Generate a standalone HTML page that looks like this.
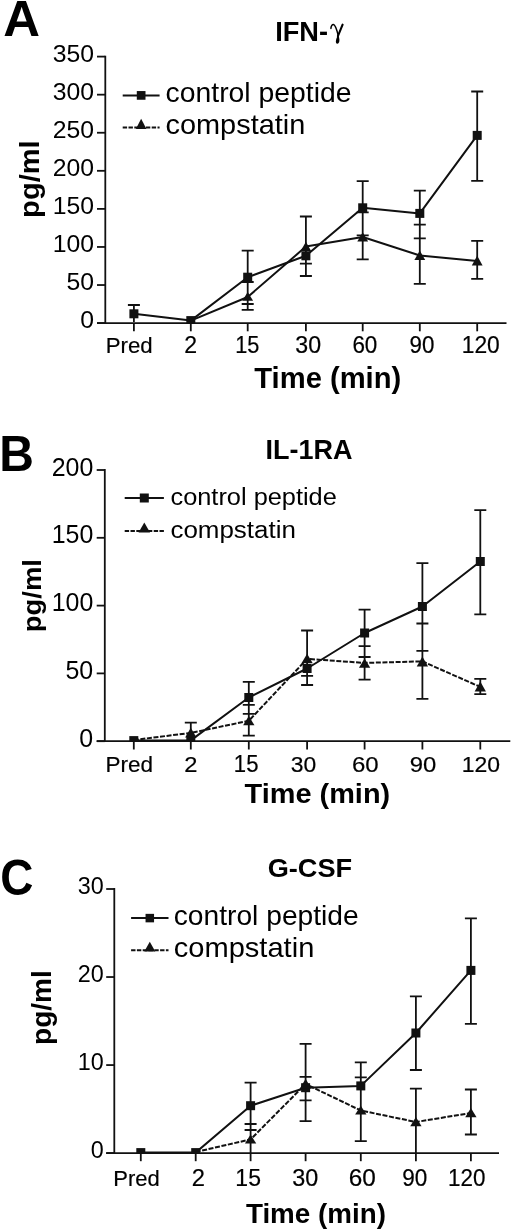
<!DOCTYPE html>
<html><head><meta charset="utf-8"><style>html,body{margin:0;padding:0;background:#fff;}svg{display:block;filter:grayscale(1);}</style></head>
<body><svg width="520" height="1230" viewBox="0 0 520 1230">
<rect width="520" height="1230" fill="#fff"/>
<text transform="translate(3.33,36.30) scale(0.5090,0.5014)" font-family="Liberation Sans" font-weight="bold" font-style="normal" font-size="100" fill="#000">A</text>
<text transform="translate(275.13,40.80) scale(0.2717,0.2681)" font-family="Liberation Sans" font-weight="bold" font-style="normal" font-size="100" fill="#000">IFN-</text>
<path d="M330.9,28.4 C331.1,25.6 332.3,24.3 333.4,24.4 C335.6,24.6 336.9,30 338.3,35.6" fill="none" stroke="#000" stroke-width="1.5" stroke-linecap="round"/>
<path d="M342.6,24.7 L337.9,36.2" fill="none" stroke="#000" stroke-width="2.1" stroke-linecap="round"/>
<path d="M338.2,34.8 C339.9,38.8 339.9,43.7 337.3,43.7 C335.1,43.7 335.4,39.6 338.2,34.8 Z" fill="#000"/>
<line x1="105.30" y1="55.70" x2="105.30" y2="324.00" stroke="#111" stroke-width="1.8"/>
<line x1="97.00" y1="323.10" x2="105.30" y2="323.10" stroke="#111" stroke-width="1.8"/>
<text transform="translate(80.31,328.40) scale(0.2478,0.2471)" font-family="Liberation Sans" font-weight="normal" font-style="normal" font-size="100" fill="#000">0</text>
<line x1="97.00" y1="285.03" x2="105.30" y2="285.03" stroke="#111" stroke-width="1.8"/>
<text transform="translate(66.56,290.33) scale(0.2478,0.2471)" font-family="Liberation Sans" font-weight="normal" font-style="normal" font-size="100" fill="#000">50</text>
<line x1="97.00" y1="246.96" x2="105.30" y2="246.96" stroke="#111" stroke-width="1.8"/>
<text transform="translate(52.81,252.26) scale(0.2478,0.2471)" font-family="Liberation Sans" font-weight="normal" font-style="normal" font-size="100" fill="#000">100</text>
<line x1="97.00" y1="208.89" x2="105.30" y2="208.89" stroke="#111" stroke-width="1.8"/>
<text transform="translate(52.81,214.19) scale(0.2478,0.2471)" font-family="Liberation Sans" font-weight="normal" font-style="normal" font-size="100" fill="#000">150</text>
<line x1="97.00" y1="170.81" x2="105.30" y2="170.81" stroke="#111" stroke-width="1.8"/>
<text transform="translate(52.81,176.11) scale(0.2478,0.2471)" font-family="Liberation Sans" font-weight="normal" font-style="normal" font-size="100" fill="#000">200</text>
<line x1="97.00" y1="132.74" x2="105.30" y2="132.74" stroke="#111" stroke-width="1.8"/>
<text transform="translate(52.81,138.04) scale(0.2478,0.2471)" font-family="Liberation Sans" font-weight="normal" font-style="normal" font-size="100" fill="#000">250</text>
<line x1="97.00" y1="94.67" x2="105.30" y2="94.67" stroke="#111" stroke-width="1.8"/>
<text transform="translate(52.81,99.97) scale(0.2478,0.2471)" font-family="Liberation Sans" font-weight="normal" font-style="normal" font-size="100" fill="#000">300</text>
<line x1="97.00" y1="56.60" x2="105.30" y2="56.60" stroke="#111" stroke-width="1.8"/>
<text transform="translate(52.81,61.90) scale(0.2478,0.2471)" font-family="Liberation Sans" font-weight="normal" font-style="normal" font-size="100" fill="#000">350</text>
<line x1="97.00" y1="323.10" x2="506.50" y2="323.10" stroke="#111" stroke-width="1.8"/>
<line x1="133.90" y1="323.10" x2="133.90" y2="331.30" stroke="#111" stroke-width="1.8"/>
<text transform="translate(105.82,353.20) scale(0.2219,0.2234)" font-family="Liberation Sans" font-weight="normal" font-style="normal" font-size="100" fill="#000" stroke="#000" stroke-width="0.90" stroke-linejoin="round">Pred</text>
<line x1="190.80" y1="323.10" x2="190.80" y2="331.30" stroke="#111" stroke-width="1.8"/>
<text transform="translate(184.35,353.20) scale(0.2308,0.2314)" font-family="Liberation Sans" font-weight="normal" font-style="normal" font-size="100" fill="#000" stroke="#000" stroke-width="0.87" stroke-linejoin="round">2</text>
<line x1="247.70" y1="323.10" x2="247.70" y2="331.30" stroke="#111" stroke-width="1.8"/>
<text transform="translate(235.27,353.20) scale(0.2171,0.2348)" font-family="Liberation Sans" font-weight="normal" font-style="normal" font-size="100" fill="#000" stroke="#000" stroke-width="0.89" stroke-linejoin="round">15</text>
<line x1="305.90" y1="323.10" x2="305.90" y2="331.30" stroke="#111" stroke-width="1.8"/>
<text transform="translate(295.37,353.20) scale(0.2319,0.2314)" font-family="Liberation Sans" font-weight="normal" font-style="normal" font-size="100" fill="#000" stroke="#000" stroke-width="0.86" stroke-linejoin="round">30</text>
<line x1="362.70" y1="323.10" x2="362.70" y2="331.30" stroke="#111" stroke-width="1.8"/>
<text transform="translate(352.38,353.20) scale(0.2244,0.2314)" font-family="Liberation Sans" font-weight="normal" font-style="normal" font-size="100" fill="#000" stroke="#000" stroke-width="0.88" stroke-linejoin="round">60</text>
<line x1="419.80" y1="323.10" x2="419.80" y2="331.30" stroke="#111" stroke-width="1.8"/>
<text transform="translate(409.60,353.20) scale(0.2233,0.2314)" font-family="Liberation Sans" font-weight="normal" font-style="normal" font-size="100" fill="#000" stroke="#000" stroke-width="0.88" stroke-linejoin="round">90</text>
<line x1="477.20" y1="323.10" x2="477.20" y2="331.30" stroke="#111" stroke-width="1.8"/>
<text transform="translate(461.69,353.20) scale(0.2283,0.2314)" font-family="Liberation Sans" font-weight="normal" font-style="normal" font-size="100" fill="#000" stroke="#000" stroke-width="0.87" stroke-linejoin="round">120</text>
<text transform="translate(254.31,387.70) scale(0.2918,0.2910)" font-family="Liberation Sans" font-weight="bold" font-style="normal" font-size="100" fill="#000">Time (min)</text>
<text transform="translate(38.70,217.89) rotate(-90) scale(0.2911,0.2828)" font-family="Liberation Sans" font-weight="bold" font-size="100" fill="#000">pg/ml</text>
<line x1="122.70" y1="95.40" x2="159.60" y2="95.40" stroke="#111" stroke-width="2"/>
<rect x="136.80" y="91.05" width="8.7" height="8.7" fill="#111"/>
<line x1="122.70" y1="127.40" x2="159.60" y2="127.40" stroke="#111" stroke-width="2.0" stroke-dasharray="4.4,1.4"/>
<polygon points="141.15,118.80 146.45,128.90 135.85,128.90" fill="#111"/>
<text transform="translate(165.57,101.90) scale(0.2836,0.2703)" font-family="Liberation Sans" font-weight="normal" font-style="normal" font-size="100" fill="#000">control peptide</text>
<text transform="translate(165.44,133.80) scale(0.2894,0.2703)" font-family="Liberation Sans" font-weight="normal" font-style="normal" font-size="100" fill="#000">compstatin</text>
<clipPath id="cA"><rect x="105.3" y="-23.4" width="411.2" height="346.5"/></clipPath><g clip-path="url(#cA)">
<line x1="133.90" y1="305.00" x2="133.90" y2="322.00" stroke="#111" stroke-width="1.8"/>
<line x1="127.90" y1="305.00" x2="139.90" y2="305.00" stroke="#111" stroke-width="1.8"/>
<line x1="247.70" y1="250.60" x2="247.70" y2="309.90" stroke="#111" stroke-width="1.8"/>
<line x1="241.70" y1="250.60" x2="253.70" y2="250.60" stroke="#111" stroke-width="1.8"/>
<line x1="241.70" y1="282.00" x2="253.70" y2="282.00" stroke="#111" stroke-width="1.8"/>
<line x1="241.70" y1="304.00" x2="253.70" y2="304.00" stroke="#111" stroke-width="1.8"/>
<line x1="241.70" y1="309.90" x2="253.70" y2="309.90" stroke="#111" stroke-width="1.8"/>
<line x1="305.90" y1="216.50" x2="305.90" y2="276.00" stroke="#111" stroke-width="1.8"/>
<line x1="299.90" y1="216.50" x2="311.90" y2="216.50" stroke="#111" stroke-width="1.8"/>
<line x1="299.90" y1="263.70" x2="311.90" y2="263.70" stroke="#111" stroke-width="1.8"/>
<line x1="299.90" y1="276.00" x2="311.90" y2="276.00" stroke="#111" stroke-width="1.8"/>
<line x1="362.70" y1="181.10" x2="362.70" y2="259.40" stroke="#111" stroke-width="1.8"/>
<line x1="356.70" y1="181.10" x2="368.70" y2="181.10" stroke="#111" stroke-width="1.8"/>
<line x1="356.70" y1="212.30" x2="368.70" y2="212.30" stroke="#111" stroke-width="1.8"/>
<line x1="356.70" y1="235.40" x2="368.70" y2="235.40" stroke="#111" stroke-width="1.8"/>
<line x1="356.70" y1="259.40" x2="368.70" y2="259.40" stroke="#111" stroke-width="1.8"/>
<line x1="419.80" y1="190.70" x2="419.80" y2="283.90" stroke="#111" stroke-width="1.8"/>
<line x1="413.80" y1="190.70" x2="425.80" y2="190.70" stroke="#111" stroke-width="1.8"/>
<line x1="413.80" y1="224.70" x2="425.80" y2="224.70" stroke="#111" stroke-width="1.8"/>
<line x1="413.80" y1="238.30" x2="425.80" y2="238.30" stroke="#111" stroke-width="1.8"/>
<line x1="413.80" y1="283.90" x2="425.80" y2="283.90" stroke="#111" stroke-width="1.8"/>
<line x1="477.20" y1="91.50" x2="477.20" y2="180.90" stroke="#111" stroke-width="1.8"/>
<line x1="471.20" y1="91.50" x2="483.20" y2="91.50" stroke="#111" stroke-width="1.8"/>
<line x1="471.20" y1="180.90" x2="483.20" y2="180.90" stroke="#111" stroke-width="1.8"/>
<line x1="477.20" y1="240.90" x2="477.20" y2="278.90" stroke="#111" stroke-width="1.8"/>
<line x1="471.20" y1="240.90" x2="483.20" y2="240.90" stroke="#111" stroke-width="1.8"/>
<line x1="471.20" y1="278.90" x2="483.20" y2="278.90" stroke="#111" stroke-width="1.8"/>
<polyline points="133.90,313.80 190.80,320.60 247.70,277.20 305.90,255.80 362.70,207.80 419.80,213.40 477.20,135.40" fill="none" stroke="#111" stroke-width="2.0" stroke-linejoin="round"/>
<polyline points="190.80,320.60 247.70,297.00 305.90,246.60 362.70,237.00 419.80,255.50 477.20,261.00" fill="none" stroke="#111" stroke-width="2.0" stroke-linejoin="round"/>
<rect x="129.40" y="309.30" width="9" height="9" fill="#111"/>
<rect x="186.30" y="316.10" width="9" height="9" fill="#111"/>
<rect x="243.20" y="272.70" width="9" height="9" fill="#111"/>
<rect x="301.40" y="251.30" width="9" height="9" fill="#111"/>
<rect x="358.20" y="203.30" width="9" height="9" fill="#111"/>
<rect x="415.30" y="208.90" width="9" height="9" fill="#111"/>
<rect x="472.70" y="130.90" width="9" height="9" fill="#111"/>
<polygon points="247.70,292.00 253.10,300.80 242.30,300.80" fill="#111"/>
<polygon points="305.90,241.80 311.30,251.20 300.50,251.20" fill="#111"/>
<polygon points="362.70,232.20 368.10,241.50 357.30,241.50" fill="#111"/>
<polygon points="419.80,250.60 425.20,259.90 414.40,259.90" fill="#111"/>
<polygon points="477.20,255.70 482.60,265.50 471.80,265.50" fill="#111"/>
</g>
<text transform="translate(-0.72,471.00) scale(0.4803,0.5000)" font-family="Liberation Sans" font-weight="bold" font-style="normal" font-size="100" fill="#000">B</text>
<text transform="translate(265.54,459.00) scale(0.2703,0.2696)" font-family="Liberation Sans" font-weight="bold" font-style="normal" font-size="100" fill="#000">IL-1RA</text>
<line x1="104.80" y1="469.10" x2="104.80" y2="742.10" stroke="#111" stroke-width="1.8"/>
<line x1="96.70" y1="741.20" x2="104.80" y2="741.20" stroke="#111" stroke-width="1.8"/>
<text transform="translate(79.33,746.70) scale(0.2494,0.2486)" font-family="Liberation Sans" font-weight="normal" font-style="normal" font-size="100" fill="#000">0</text>
<line x1="96.70" y1="673.40" x2="104.80" y2="673.40" stroke="#111" stroke-width="1.8"/>
<text transform="translate(65.49,678.90) scale(0.2494,0.2486)" font-family="Liberation Sans" font-weight="normal" font-style="normal" font-size="100" fill="#000">50</text>
<line x1="96.70" y1="605.60" x2="104.80" y2="605.60" stroke="#111" stroke-width="1.8"/>
<text transform="translate(51.65,611.10) scale(0.2494,0.2486)" font-family="Liberation Sans" font-weight="normal" font-style="normal" font-size="100" fill="#000">100</text>
<line x1="96.70" y1="537.80" x2="104.80" y2="537.80" stroke="#111" stroke-width="1.8"/>
<text transform="translate(51.65,543.30) scale(0.2494,0.2486)" font-family="Liberation Sans" font-weight="normal" font-style="normal" font-size="100" fill="#000">150</text>
<line x1="96.70" y1="470.00" x2="104.80" y2="470.00" stroke="#111" stroke-width="1.8"/>
<text transform="translate(51.65,475.50) scale(0.2494,0.2486)" font-family="Liberation Sans" font-weight="normal" font-style="normal" font-size="100" fill="#000">200</text>
<line x1="96.70" y1="741.20" x2="510.30" y2="741.20" stroke="#111" stroke-width="1.8"/>
<line x1="133.80" y1="741.20" x2="133.80" y2="749.50" stroke="#111" stroke-width="1.8"/>
<text transform="translate(105.50,771.50) scale(0.2249,0.2193)" font-family="Liberation Sans" font-weight="normal" font-style="normal" font-size="100" fill="#000" stroke="#000" stroke-width="0.90" stroke-linejoin="round">Pred</text>
<line x1="190.80" y1="741.20" x2="190.80" y2="749.50" stroke="#111" stroke-width="1.8"/>
<text transform="translate(184.31,771.50) scale(0.2374,0.2271)" font-family="Liberation Sans" font-weight="normal" font-style="normal" font-size="100" fill="#000" stroke="#000" stroke-width="0.86" stroke-linejoin="round">2</text>
<line x1="248.80" y1="741.20" x2="248.80" y2="749.50" stroke="#111" stroke-width="1.8"/>
<text transform="translate(233.84,771.50) scale(0.2211,0.2304)" font-family="Liberation Sans" font-weight="normal" font-style="normal" font-size="100" fill="#000" stroke="#000" stroke-width="0.89" stroke-linejoin="round">15</text>
<line x1="307.10" y1="741.20" x2="307.10" y2="749.50" stroke="#111" stroke-width="1.8"/>
<text transform="translate(290.78,771.50) scale(0.2290,0.2271)" font-family="Liberation Sans" font-weight="normal" font-style="normal" font-size="100" fill="#000" stroke="#000" stroke-width="0.88" stroke-linejoin="round">30</text>
<line x1="364.60" y1="741.20" x2="364.60" y2="749.50" stroke="#111" stroke-width="1.8"/>
<text transform="translate(352.00,771.50) scale(0.2400,0.2271)" font-family="Liberation Sans" font-weight="normal" font-style="normal" font-size="100" fill="#000" stroke="#000" stroke-width="0.86" stroke-linejoin="round">60</text>
<line x1="422.40" y1="741.20" x2="422.40" y2="749.50" stroke="#111" stroke-width="1.8"/>
<text transform="translate(409.73,771.50) scale(0.2388,0.2271)" font-family="Liberation Sans" font-weight="normal" font-style="normal" font-size="100" fill="#000" stroke="#000" stroke-width="0.86" stroke-linejoin="round">90</text>
<line x1="480.30" y1="741.20" x2="480.30" y2="749.50" stroke="#111" stroke-width="1.8"/>
<text transform="translate(461.78,771.50) scale(0.2296,0.2271)" font-family="Liberation Sans" font-weight="normal" font-style="normal" font-size="100" fill="#000" stroke="#000" stroke-width="0.88" stroke-linejoin="round">120</text>
<text transform="translate(244.61,803.20) scale(0.2890,0.2855)" font-family="Liberation Sans" font-weight="bold" font-style="normal" font-size="100" fill="#000">Time (min)</text>
<text transform="translate(41.00,632.18) rotate(-90) scale(0.2742,0.2634)" font-family="Liberation Sans" font-weight="bold" font-size="100" fill="#000">pg/ml</text>
<line x1="124.70" y1="498.00" x2="163.90" y2="498.00" stroke="#111" stroke-width="2"/>
<rect x="139.80" y="493.50" width="9" height="9" fill="#111"/>
<line x1="124.70" y1="531.00" x2="163.90" y2="531.00" stroke="#111" stroke-width="2.0" stroke-dasharray="4.4,1.4"/>
<polygon points="144.30,522.60 150.05,532.60 138.55,532.60" fill="#111"/>
<text transform="translate(170.49,505.00) scale(0.2537,0.2386)" font-family="Liberation Sans" font-weight="normal" font-style="normal" font-size="100" fill="#000">control peptide</text>
<text transform="translate(170.46,537.70) scale(0.2594,0.2386)" font-family="Liberation Sans" font-weight="normal" font-style="normal" font-size="100" fill="#000">compstatin</text>
<clipPath id="cB"><rect x="104.8" y="390.0" width="415.5" height="351.20000000000005"/></clipPath><g clip-path="url(#cB)">
<line x1="190.80" y1="722.70" x2="190.80" y2="741.00" stroke="#111" stroke-width="1.8"/>
<line x1="184.80" y1="722.70" x2="196.80" y2="722.70" stroke="#111" stroke-width="1.8"/>
<line x1="248.80" y1="681.90" x2="248.80" y2="735.60" stroke="#111" stroke-width="1.8"/>
<line x1="242.80" y1="681.90" x2="254.80" y2="681.90" stroke="#111" stroke-width="1.8"/>
<line x1="242.80" y1="704.80" x2="254.80" y2="704.80" stroke="#111" stroke-width="1.8"/>
<line x1="242.80" y1="713.80" x2="254.80" y2="713.80" stroke="#111" stroke-width="1.8"/>
<line x1="242.80" y1="735.60" x2="254.80" y2="735.60" stroke="#111" stroke-width="1.8"/>
<line x1="307.10" y1="630.50" x2="307.10" y2="685.00" stroke="#111" stroke-width="1.8"/>
<line x1="301.10" y1="630.50" x2="313.10" y2="630.50" stroke="#111" stroke-width="1.8"/>
<line x1="301.10" y1="675.90" x2="313.10" y2="675.90" stroke="#111" stroke-width="1.8"/>
<line x1="301.10" y1="685.00" x2="313.10" y2="685.00" stroke="#111" stroke-width="1.8"/>
<line x1="364.60" y1="609.70" x2="364.60" y2="679.60" stroke="#111" stroke-width="1.8"/>
<line x1="358.60" y1="609.70" x2="370.60" y2="609.70" stroke="#111" stroke-width="1.8"/>
<line x1="358.60" y1="646.20" x2="370.60" y2="646.20" stroke="#111" stroke-width="1.8"/>
<line x1="358.60" y1="657.00" x2="370.60" y2="657.00" stroke="#111" stroke-width="1.8"/>
<line x1="358.60" y1="679.60" x2="370.60" y2="679.60" stroke="#111" stroke-width="1.8"/>
<line x1="422.40" y1="563.10" x2="422.40" y2="698.80" stroke="#111" stroke-width="1.8"/>
<line x1="416.40" y1="563.10" x2="428.40" y2="563.10" stroke="#111" stroke-width="1.8"/>
<line x1="416.40" y1="623.50" x2="428.40" y2="623.50" stroke="#111" stroke-width="1.8"/>
<line x1="416.40" y1="650.80" x2="428.40" y2="650.80" stroke="#111" stroke-width="1.8"/>
<line x1="416.40" y1="698.80" x2="428.40" y2="698.80" stroke="#111" stroke-width="1.8"/>
<line x1="480.30" y1="510.20" x2="480.30" y2="614.30" stroke="#111" stroke-width="1.8"/>
<line x1="474.30" y1="510.20" x2="486.30" y2="510.20" stroke="#111" stroke-width="1.8"/>
<line x1="474.30" y1="614.30" x2="486.30" y2="614.30" stroke="#111" stroke-width="1.8"/>
<line x1="480.30" y1="678.90" x2="480.30" y2="694.20" stroke="#111" stroke-width="1.8"/>
<line x1="474.30" y1="678.90" x2="486.30" y2="678.90" stroke="#111" stroke-width="1.8"/>
<line x1="474.30" y1="694.20" x2="486.30" y2="694.20" stroke="#111" stroke-width="1.8"/>
<polyline points="133.80,740.60 190.80,740.40 248.80,697.50 307.10,668.50 364.60,633.00 422.40,606.50 480.30,561.50" fill="none" stroke="#111" stroke-width="2.0" stroke-linejoin="round"/>
<polyline points="133.80,740.00 190.80,732.90 248.80,720.80 307.10,658.90 364.60,662.90 422.40,661.40 480.30,686.90" fill="none" stroke="#111" stroke-width="2.0" stroke-linejoin="round" stroke-dasharray="5.0,1.6"/>
<rect x="129.30" y="736.10" width="9" height="9" fill="#111"/>
<rect x="186.30" y="735.90" width="9" height="9" fill="#111"/>
<rect x="244.30" y="693.00" width="9" height="9" fill="#111"/>
<rect x="302.60" y="664.00" width="9" height="9" fill="#111"/>
<rect x="360.10" y="628.50" width="9" height="9" fill="#111"/>
<rect x="417.90" y="602.00" width="9" height="9" fill="#111"/>
<rect x="475.80" y="557.00" width="9" height="9" fill="#111"/>
<polygon points="190.80,727.80 196.45,737.40 185.15,737.40" fill="#111"/>
<polygon points="248.80,715.90 254.45,725.30 243.15,725.30" fill="#111"/>
<polygon points="307.10,653.80 312.75,663.30 301.45,663.30" fill="#111"/>
<polygon points="364.60,658.40 370.25,667.80 358.95,667.80" fill="#111"/>
<polygon points="422.40,656.60 428.05,666.40 416.75,666.40" fill="#111"/>
<polygon points="480.30,681.60 485.95,691.40 474.65,691.40" fill="#111"/>
</g>
<text transform="translate(0.26,894.70) scale(0.4595,0.5086)" font-family="Liberation Sans" font-weight="bold" font-style="normal" font-size="100" fill="#000">C</text>
<text transform="translate(267.71,877.30) scale(0.2715,0.2571)" font-family="Liberation Sans" font-weight="bold" font-style="normal" font-size="100" fill="#000">G-CSF</text>
<line x1="114.30" y1="888.10" x2="114.30" y2="1154.00" stroke="#111" stroke-width="1.8"/>
<line x1="106.20" y1="1153.10" x2="114.30" y2="1153.10" stroke="#111" stroke-width="1.8"/>
<text transform="translate(90.84,1158.20) scale(0.2338,0.2414)" font-family="Liberation Sans" font-weight="normal" font-style="normal" font-size="100" fill="#000">0</text>
<line x1="106.20" y1="1065.07" x2="114.30" y2="1065.07" stroke="#111" stroke-width="1.8"/>
<text transform="translate(77.86,1070.17) scale(0.2338,0.2414)" font-family="Liberation Sans" font-weight="normal" font-style="normal" font-size="100" fill="#000">10</text>
<line x1="106.20" y1="977.03" x2="114.30" y2="977.03" stroke="#111" stroke-width="1.8"/>
<text transform="translate(77.86,982.13) scale(0.2338,0.2414)" font-family="Liberation Sans" font-weight="normal" font-style="normal" font-size="100" fill="#000">20</text>
<line x1="106.20" y1="889.00" x2="114.30" y2="889.00" stroke="#111" stroke-width="1.8"/>
<text transform="translate(77.86,894.10) scale(0.2338,0.2414)" font-family="Liberation Sans" font-weight="normal" font-style="normal" font-size="100" fill="#000">30</text>
<line x1="106.20" y1="1153.10" x2="499.00" y2="1153.10" stroke="#111" stroke-width="1.8"/>
<line x1="140.80" y1="1153.10" x2="140.80" y2="1161.20" stroke="#111" stroke-width="1.8"/>
<text transform="translate(113.24,1185.80) scale(0.2198,0.2290)" font-family="Liberation Sans" font-weight="normal" font-style="normal" font-size="100" fill="#000" stroke="#000" stroke-width="0.89" stroke-linejoin="round">Pred</text>
<line x1="195.70" y1="1153.10" x2="195.70" y2="1161.20" stroke="#111" stroke-width="1.8"/>
<text transform="translate(191.71,1185.80) scale(0.2374,0.2371)" font-family="Liberation Sans" font-weight="normal" font-style="normal" font-size="100" fill="#000" stroke="#000" stroke-width="0.84" stroke-linejoin="round">2</text>
<line x1="250.60" y1="1153.10" x2="250.60" y2="1161.20" stroke="#111" stroke-width="1.8"/>
<text transform="translate(235.37,1185.80) scale(0.2302,0.2406)" font-family="Liberation Sans" font-weight="normal" font-style="normal" font-size="100" fill="#000" stroke="#000" stroke-width="0.85" stroke-linejoin="round">15</text>
<line x1="305.60" y1="1153.10" x2="305.60" y2="1161.20" stroke="#111" stroke-width="1.8"/>
<text transform="translate(292.16,1185.80) scale(0.2338,0.2371)" font-family="Liberation Sans" font-weight="normal" font-style="normal" font-size="100" fill="#000" stroke="#000" stroke-width="0.85" stroke-linejoin="round">30</text>
<line x1="360.80" y1="1153.10" x2="360.80" y2="1161.20" stroke="#111" stroke-width="1.8"/>
<text transform="translate(348.78,1185.80) scale(0.2439,0.2371)" font-family="Liberation Sans" font-weight="normal" font-style="normal" font-size="100" fill="#000" stroke="#000" stroke-width="0.83" stroke-linejoin="round">60</text>
<line x1="415.90" y1="1153.10" x2="415.90" y2="1161.20" stroke="#111" stroke-width="1.8"/>
<text transform="translate(402.19,1185.80) scale(0.2252,0.2371)" font-family="Liberation Sans" font-weight="normal" font-style="normal" font-size="100" fill="#000" stroke="#000" stroke-width="0.87" stroke-linejoin="round">90</text>
<line x1="470.90" y1="1153.10" x2="470.90" y2="1161.20" stroke="#111" stroke-width="1.8"/>
<text transform="translate(448.02,1185.80) scale(0.2244,0.2371)" font-family="Liberation Sans" font-weight="normal" font-style="normal" font-size="100" fill="#000" stroke="#000" stroke-width="0.87" stroke-linejoin="round">120</text>
<text transform="translate(245.92,1222.70) scale(0.2781,0.2828)" font-family="Liberation Sans" font-weight="bold" font-style="normal" font-size="100" fill="#000">Time (min)</text>
<text transform="translate(50.90,1044.92) rotate(-90) scale(0.2801,0.2676)" font-family="Liberation Sans" font-weight="bold" font-size="100" fill="#000">pg/ml</text>
<line x1="131.10" y1="918.10" x2="168.50" y2="918.10" stroke="#111" stroke-width="2"/>
<rect x="145.55" y="913.85" width="8.5" height="8.5" fill="#111"/>
<line x1="131.10" y1="950.30" x2="168.50" y2="950.30" stroke="#111" stroke-width="2.0" stroke-dasharray="4.4,1.4"/>
<polygon points="149.80,941.80 155.30,951.50 144.30,951.50" fill="#111"/>
<text transform="translate(173.77,924.90) scale(0.2820,0.2703)" font-family="Liberation Sans" font-weight="normal" font-style="normal" font-size="100" fill="#000">control peptide</text>
<text transform="translate(173.74,956.50) scale(0.2909,0.2703)" font-family="Liberation Sans" font-weight="normal" font-style="normal" font-size="100" fill="#000">compstatin</text>
<clipPath id="cC"><rect x="114.3" y="809.0" width="394.7" height="344.0999999999999"/></clipPath><g clip-path="url(#cC)">
<line x1="250.60" y1="1082.60" x2="250.60" y2="1153.20" stroke="#111" stroke-width="1.8"/>
<line x1="244.60" y1="1082.60" x2="256.60" y2="1082.60" stroke="#111" stroke-width="1.8"/>
<line x1="244.60" y1="1124.00" x2="256.60" y2="1124.00" stroke="#111" stroke-width="1.8"/>
<line x1="244.60" y1="1130.00" x2="256.60" y2="1130.00" stroke="#111" stroke-width="1.8"/>
<line x1="305.60" y1="1043.80" x2="305.60" y2="1121.10" stroke="#111" stroke-width="1.8"/>
<line x1="299.60" y1="1043.80" x2="311.60" y2="1043.80" stroke="#111" stroke-width="1.8"/>
<line x1="299.60" y1="1076.90" x2="311.60" y2="1076.90" stroke="#111" stroke-width="1.8"/>
<line x1="299.60" y1="1100.40" x2="311.60" y2="1100.40" stroke="#111" stroke-width="1.8"/>
<line x1="299.60" y1="1121.10" x2="311.60" y2="1121.10" stroke="#111" stroke-width="1.8"/>
<line x1="360.80" y1="1062.30" x2="360.80" y2="1141.20" stroke="#111" stroke-width="1.8"/>
<line x1="354.80" y1="1062.30" x2="366.80" y2="1062.30" stroke="#111" stroke-width="1.8"/>
<line x1="354.80" y1="1077.30" x2="366.80" y2="1077.30" stroke="#111" stroke-width="1.8"/>
<line x1="354.80" y1="1141.20" x2="366.80" y2="1141.20" stroke="#111" stroke-width="1.8"/>
<line x1="415.90" y1="996.40" x2="415.90" y2="1070.00" stroke="#111" stroke-width="1.8"/>
<line x1="409.90" y1="996.40" x2="421.90" y2="996.40" stroke="#111" stroke-width="1.8"/>
<line x1="409.90" y1="1070.00" x2="421.90" y2="1070.00" stroke="#111" stroke-width="1.8"/>
<line x1="415.90" y1="1088.60" x2="415.90" y2="1153.00" stroke="#111" stroke-width="1.8"/>
<line x1="409.90" y1="1088.60" x2="421.90" y2="1088.60" stroke="#111" stroke-width="1.8"/>
<line x1="470.90" y1="918.40" x2="470.90" y2="1023.90" stroke="#111" stroke-width="1.8"/>
<line x1="464.90" y1="918.40" x2="476.90" y2="918.40" stroke="#111" stroke-width="1.8"/>
<line x1="464.90" y1="1023.90" x2="476.90" y2="1023.90" stroke="#111" stroke-width="1.8"/>
<line x1="470.90" y1="1089.50" x2="470.90" y2="1134.50" stroke="#111" stroke-width="1.8"/>
<line x1="464.90" y1="1089.50" x2="476.90" y2="1089.50" stroke="#111" stroke-width="1.8"/>
<line x1="464.90" y1="1134.50" x2="476.90" y2="1134.50" stroke="#111" stroke-width="1.8"/>
<polyline points="140.80,1152.60 195.70,1152.60 250.60,1105.70 305.60,1087.70 360.80,1085.90 415.90,1033.00 470.90,970.40" fill="none" stroke="#111" stroke-width="2.0" stroke-linejoin="round"/>
<polyline points="195.70,1152.00 250.60,1139.40 305.60,1084.00 360.80,1110.50 415.90,1122.00 470.90,1113.00" fill="none" stroke="#111" stroke-width="2.0" stroke-linejoin="round" stroke-dasharray="5.0,1.6"/>
<rect x="136.30" y="1148.10" width="9" height="9" fill="#111"/>
<rect x="191.20" y="1148.10" width="9" height="9" fill="#111"/>
<rect x="246.10" y="1101.20" width="9" height="9" fill="#111"/>
<rect x="301.10" y="1083.20" width="9" height="9" fill="#111"/>
<rect x="356.30" y="1081.40" width="9" height="9" fill="#111"/>
<rect x="411.40" y="1028.50" width="9" height="9" fill="#111"/>
<rect x="466.40" y="965.90" width="9" height="9" fill="#111"/>
<polygon points="250.60,1134.60 256.25,1143.60 244.95,1143.60" fill="#111"/>
<polygon points="305.60,1078.80 311.25,1088.40 299.95,1088.40" fill="#111"/>
<polygon points="360.80,1105.80 366.45,1114.60 355.15,1114.60" fill="#111"/>
<polygon points="415.90,1117.00 421.55,1126.20 410.25,1126.20" fill="#111"/>
<polygon points="470.90,1108.00 476.55,1117.20 465.25,1117.20" fill="#111"/>
</g>
</svg></body></html>
